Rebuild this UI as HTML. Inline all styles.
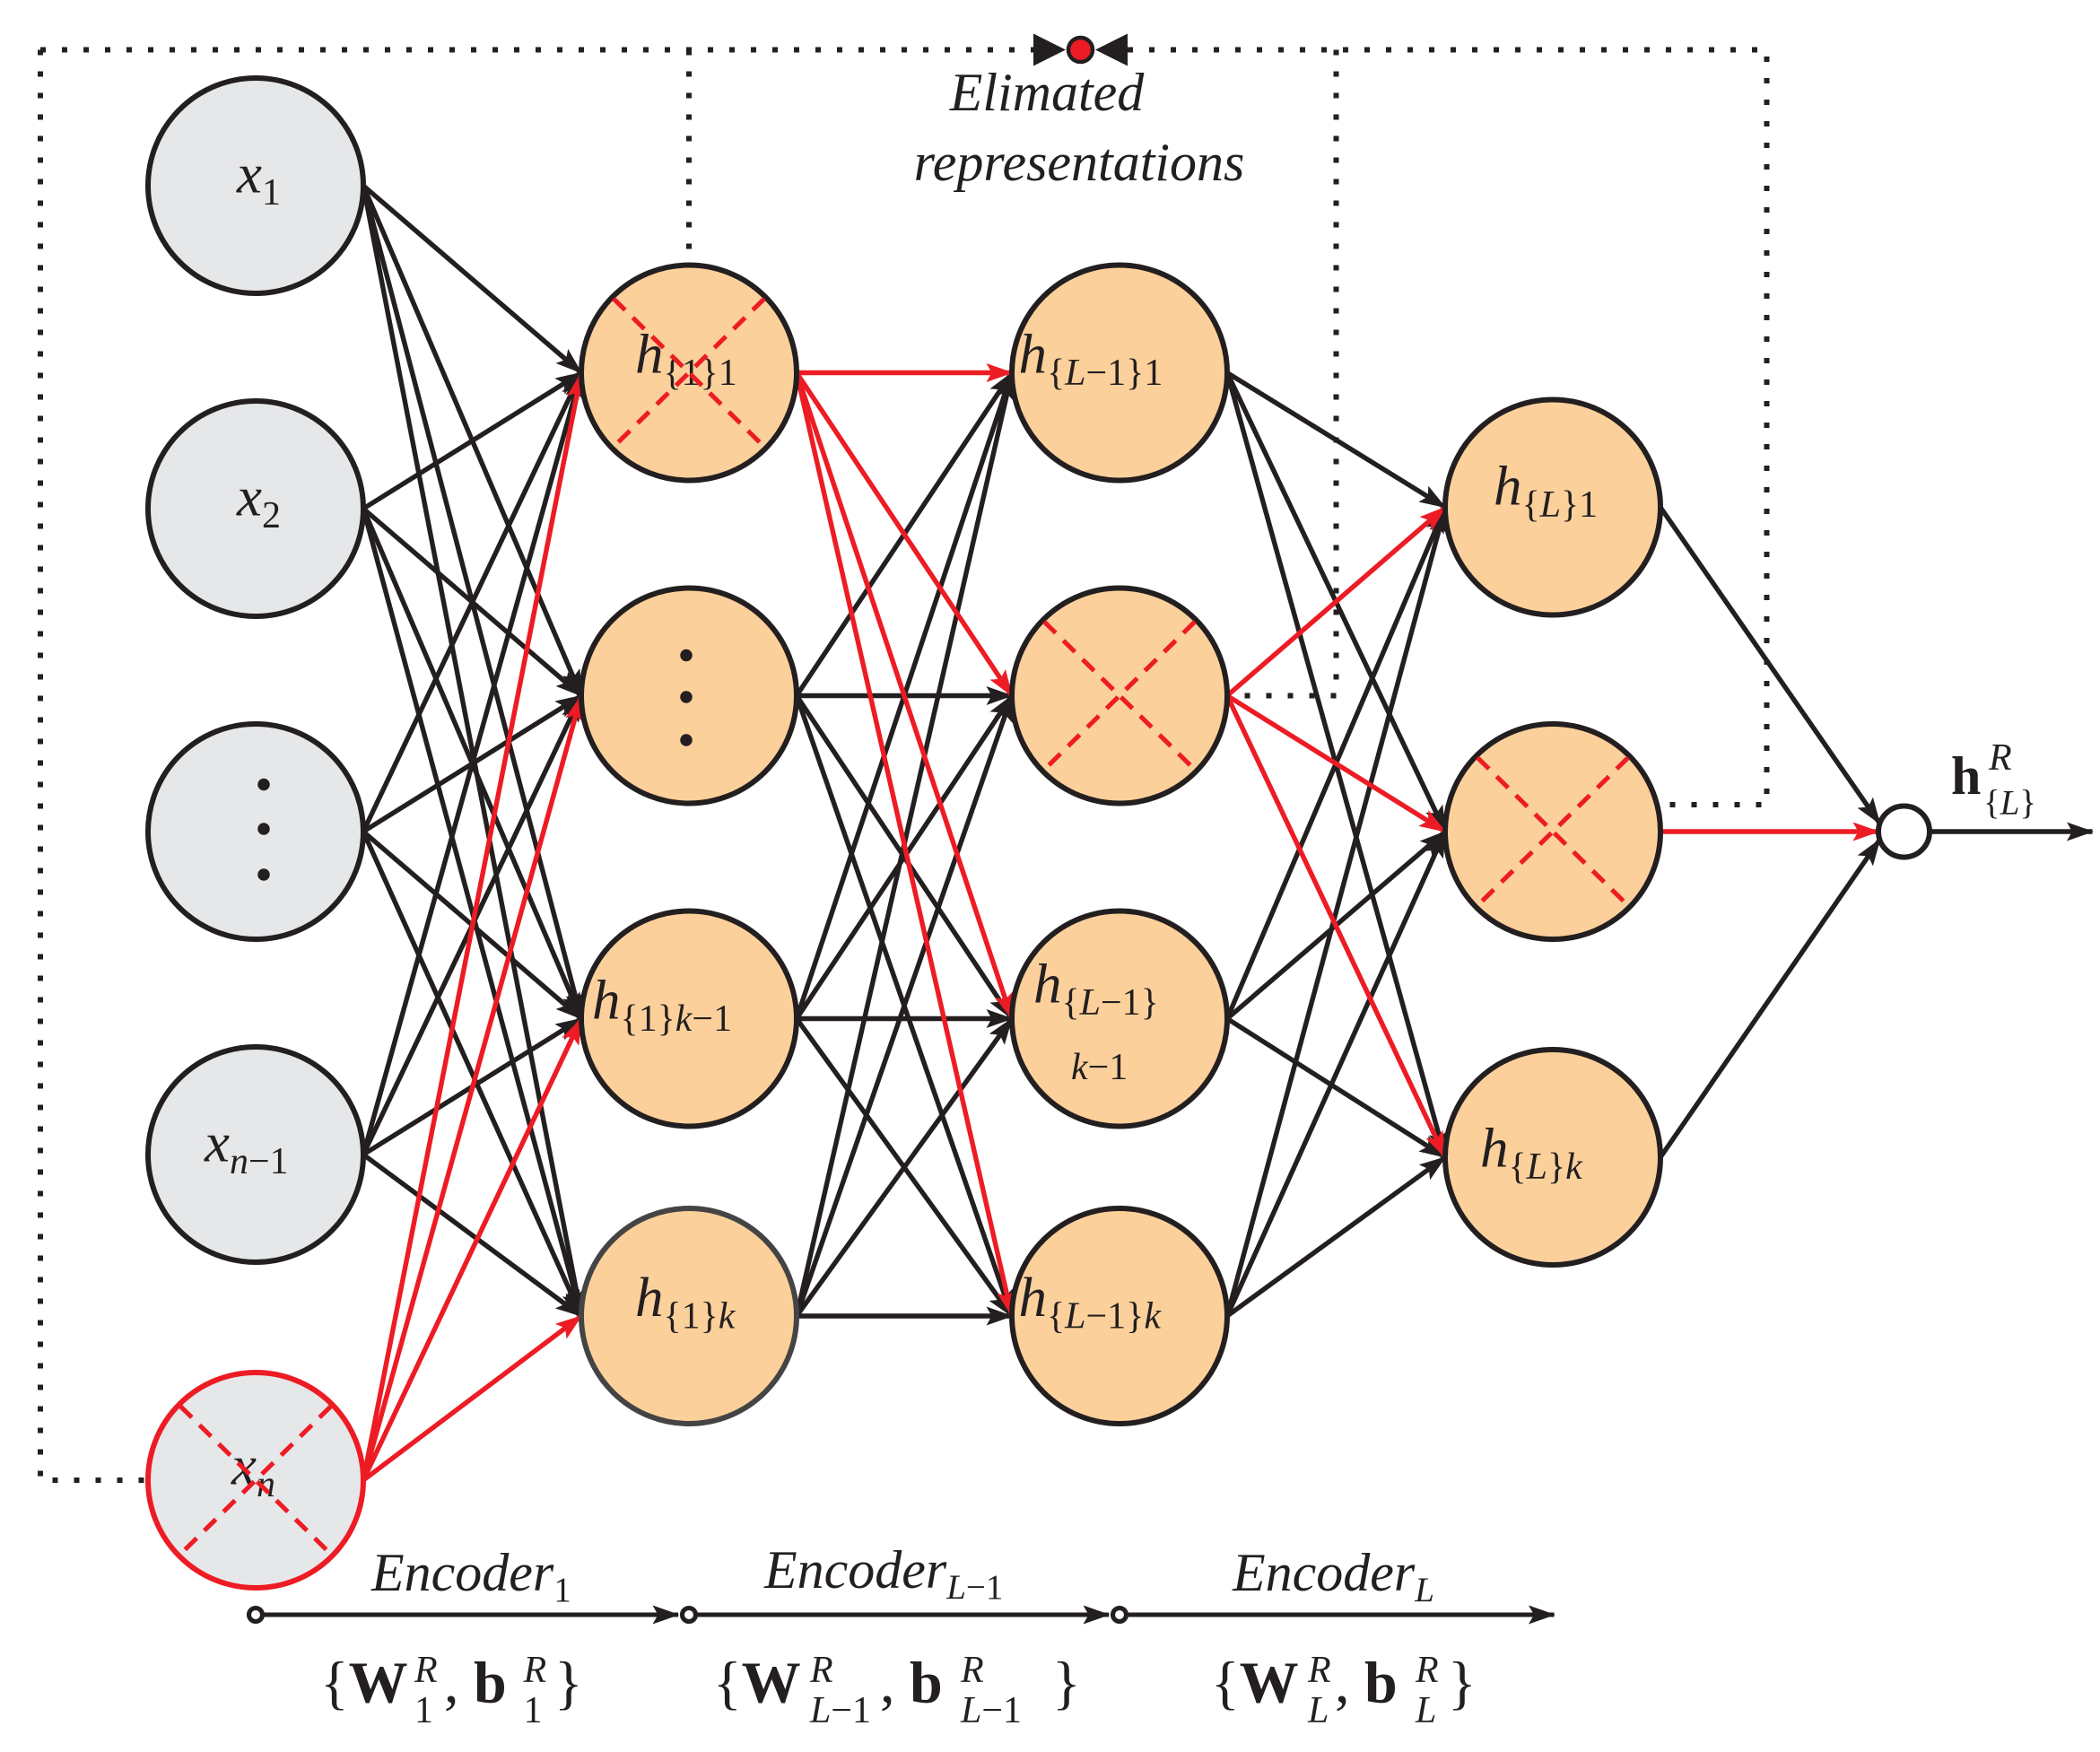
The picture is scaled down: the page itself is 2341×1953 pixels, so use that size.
<!DOCTYPE html>
<html><head><meta charset="utf-8"><style>
html,body{margin:0;padding:0;background:#fff}
svg{display:block}
text{font-family:"Liberation Serif","Times New Roman",serif;fill:#231f20}
.m{font-style:italic}
</style></head><body>
<svg width="2341" height="1953" viewBox="0 0 1560.67 1302" xmlns="http://www.w3.org/2000/svg">
<defs>
<marker id="kb" viewBox="0 0 20 14" refX="19" refY="7" markerWidth="20" markerHeight="14" orient="auto" markerUnits="userSpaceOnUse"><path d="M0,0 L20,7 L0,14 L4,7Z" fill="#231f20"/></marker>
<marker id="rb" viewBox="0 0 20 14" refX="19" refY="7" markerWidth="20" markerHeight="14" orient="auto" markerUnits="userSpaceOnUse"><path d="M0,0 L20,7 L0,14 L4,7Z" fill="#ed1c24"/></marker>
</defs>
<g stroke="#231f20" stroke-width="4" stroke-dasharray="4 12" fill="none">
<path d="M30,37 H768 M838,37 H1313 V598 H1235"/>
<path d="M30,37 V1100 H108"/>
<path d="M512,37 V195"/>
<path d="M993,37 V517 H915"/>
</g>
<path d="M768,25 L792,37 L768,49Z M838,25 L814,37 L838,49Z" fill="#231f20"/>
<circle cx="803" cy="37" r="9" fill="#ed1c24" stroke="#231f20" stroke-width="3"/>
<text class="m" x="778" y="82" font-size="40" text-anchor="middle">Elimated</text>
<text class="m" x="802" y="134" font-size="40" text-anchor="middle">representations</text>
<g stroke-width="3.6" fill="none">
<g stroke="#231f20" marker-end="url(#kb)">
<line x1="270" y1="138" x2="432" y2="277"/><line x1="270" y1="138" x2="432" y2="517"/><line x1="270" y1="138" x2="432" y2="757"/><line x1="270" y1="138" x2="432" y2="978"/>
<line x1="270" y1="378" x2="432" y2="277"/><line x1="270" y1="378" x2="432" y2="517"/><line x1="270" y1="378" x2="432" y2="757"/><line x1="270" y1="378" x2="432" y2="978"/>
<line x1="270" y1="618" x2="432" y2="277"/><line x1="270" y1="618" x2="432" y2="517"/><line x1="270" y1="618" x2="432" y2="757"/><line x1="270" y1="618" x2="432" y2="978"/>
<line x1="270" y1="858" x2="432" y2="277"/><line x1="270" y1="858" x2="432" y2="517"/><line x1="270" y1="858" x2="432" y2="757"/><line x1="270" y1="858" x2="432" y2="978"/>
</g>
<g stroke="#ed1c24" marker-end="url(#rb)">
<line x1="270" y1="1100" x2="432" y2="277"/><line x1="270" y1="1100" x2="432" y2="517"/><line x1="270" y1="1100" x2="432" y2="757"/><line x1="270" y1="1100" x2="432" y2="978"/>
</g>
<g stroke="#231f20" marker-end="url(#kb)">
<line x1="592" y1="517" x2="752" y2="277"/><line x1="592" y1="517" x2="752" y2="517"/><line x1="592" y1="517" x2="752" y2="757"/><line x1="592" y1="517" x2="752" y2="978"/>
<line x1="592" y1="757" x2="752" y2="277"/><line x1="592" y1="757" x2="752" y2="517"/><line x1="592" y1="757" x2="752" y2="757"/><line x1="592" y1="757" x2="752" y2="978"/>
<line x1="592" y1="978" x2="752" y2="277"/><line x1="592" y1="978" x2="752" y2="517"/><line x1="592" y1="978" x2="752" y2="757"/><line x1="592" y1="978" x2="752" y2="978"/>
</g>
<g stroke="#ed1c24" marker-end="url(#rb)">
<line x1="592" y1="277" x2="752" y2="277"/><line x1="592" y1="277" x2="752" y2="517"/><line x1="592" y1="277" x2="752" y2="757"/><line x1="592" y1="277" x2="752" y2="978"/>
</g>
<g stroke="#231f20" marker-end="url(#kb)">
<line x1="912" y1="277" x2="1074" y2="377"/><line x1="912" y1="277" x2="1074" y2="618"/><line x1="912" y1="277" x2="1074" y2="860"/>
<line x1="912" y1="757" x2="1074" y2="377"/><line x1="912" y1="757" x2="1074" y2="618"/><line x1="912" y1="757" x2="1074" y2="860"/>
<line x1="912" y1="978" x2="1074" y2="377"/><line x1="912" y1="978" x2="1074" y2="618"/><line x1="912" y1="978" x2="1074" y2="860"/>
</g>
<g stroke="#ed1c24" marker-end="url(#rb)">
<line x1="912" y1="517" x2="1074" y2="377"/><line x1="912" y1="517" x2="1074" y2="618"/><line x1="912" y1="517" x2="1074" y2="860"/>
</g>
<g stroke="#231f20" marker-end="url(#kb)">
<line x1="1234" y1="377" x2="1397" y2="612"/><line x1="1234" y1="860" x2="1397" y2="624"/>
<line x1="1434" y1="618" x2="1555" y2="618"/>
</g>
<line x1="1234" y1="618" x2="1396" y2="618" stroke="#ed1c24" marker-end="url(#rb)"/>
</g>
<g stroke="#231f20" stroke-width="4">
<circle cx="190" cy="138" r="80" fill="#e6e7e9"/>
<circle cx="190" cy="378" r="80" fill="#e6e7e9"/>
<circle cx="190" cy="618" r="80" fill="#e6e7e9"/>
<circle cx="190" cy="858" r="80" fill="#e6e7e9"/>
<circle cx="190" cy="1100" r="80" fill="#e6e7e9" stroke="#ed1c24"/>
<circle cx="512" cy="277" r="80" fill="#fcd09b"/>
<circle cx="512" cy="517" r="80" fill="#fcd09b"/>
<circle cx="512" cy="757" r="80" fill="#fcd09b"/>
<circle cx="512" cy="978" r="80" fill="#fcd09b" stroke="#444"/>
<circle cx="832" cy="277" r="80" fill="#fcd09b"/>
<circle cx="832" cy="517" r="80" fill="#fcd09b"/>
<circle cx="832" cy="757" r="80" fill="#fcd09b"/>
<circle cx="832" cy="978" r="80" fill="#fcd09b"/>
<circle cx="1154" cy="377" r="80" fill="#fcd09b"/>
<circle cx="1154" cy="618" r="80" fill="#fcd09b"/>
<circle cx="1154" cy="860" r="80" fill="#fcd09b"/>
<circle cx="1415" cy="618" r="19" fill="#fff"/>
</g>
<g fill="#231f20">
<circle cx="196" cy="583" r="4.5"/><circle cx="196" cy="616" r="4.5"/><circle cx="196" cy="650" r="4.5"/>
<circle cx="510" cy="487" r="4.5"/><circle cx="510" cy="518" r="4.5"/><circle cx="510" cy="550" r="4.5"/>
</g>
<g class="m" font-size="42">
<text x="176" y="143">x<tspan font-size="28" font-style="normal" dy="9">1</tspan></text>
<text x="176" y="383">x<tspan font-size="28" font-style="normal" dy="9">2</tspan></text>
<text x="152" y="863">x<tspan font-size="28" dy="9">n</tspan><tspan font-size="28" font-style="normal">−1</tspan></text>
<text x="172" y="1103">x<tspan font-size="28" dy="9">n</tspan></text>
<text x="472" y="277">h<tspan font-size="28" font-style="normal" dy="9">{1}1</tspan></text>
<text x="440" y="757">h<tspan font-size="28" font-style="normal" dy="9">{1}</tspan><tspan font-size="28">k</tspan><tspan font-size="28" font-style="normal">−1</tspan></text>
<text x="472" y="978">h<tspan font-size="28" font-style="normal" dy="9">{1}</tspan><tspan font-size="28">k</tspan></text>
<text x="757" y="277">h<tspan font-size="28" font-style="normal" dy="9">{</tspan><tspan font-size="28">L</tspan><tspan font-size="28" font-style="normal">−1}1</tspan></text>
<text x="768" y="745">h<tspan font-size="28" font-style="normal" dy="9">{</tspan><tspan font-size="28">L</tspan><tspan font-size="28" font-style="normal">−1}</tspan></text>
<text x="796" y="802" font-size="28">k<tspan font-style="normal">−1</tspan></text>
<text x="757" y="978">h<tspan font-size="28" font-style="normal" dy="9">{</tspan><tspan font-size="28">L</tspan><tspan font-size="28" font-style="normal">−1}</tspan><tspan font-size="28">k</tspan></text>
<text x="1110" y="375">h<tspan font-size="28" font-style="normal" dy="9">{</tspan><tspan font-size="28">L</tspan><tspan font-size="28" font-style="normal">}1</tspan></text>
<text x="1100" y="867">h<tspan font-size="28" font-style="normal" dy="9">{</tspan><tspan font-size="28">L</tspan><tspan font-size="28" font-style="normal">}</tspan><tspan font-size="28">k</tspan></text>
</g>
<text x="1450" y="590" font-size="40" font-weight="bold">h</text>
<text x="1478" y="572" font-size="28" class="m">R</text>
<text x="1474" y="605" font-size="26">{<tspan class="m">L</tspan>}</text>
<g stroke="#ed1c24" stroke-width="3.4" stroke-dasharray="12 8" fill="none">
<path d="M456,222 L568,332 M568,222 L456,332"/>
<path d="M776,462 L888,572 M888,462 L776,572"/>
<path d="M1098,563 L1210,673 M1210,563 L1098,673"/>
<path d="M134,1045 L246,1155 M246,1045 L134,1155"/>
</g>
<g stroke="#231f20" stroke-width="3.4" fill="none">
<line x1="194" y1="1200" x2="504" y2="1200" marker-end="url(#kb)"/>
<line x1="516" y1="1200" x2="824" y2="1200" marker-end="url(#kb)"/>
<line x1="836" y1="1200" x2="1155" y2="1200" marker-end="url(#kb)"/>
<circle cx="190" cy="1200" r="5" fill="#fff"/>
<circle cx="512" cy="1200" r="5" fill="#fff"/>
<circle cx="832" cy="1200" r="5" fill="#fff"/>
</g>
<g class="m" font-size="40">
<text x="276" y="1182">Encoder<tspan font-size="26" font-style="normal" dy="8">1</tspan></text>
<text x="568" y="1180">Encoder<tspan font-size="26" dy="8">L</tspan><tspan font-size="26" font-style="normal">−1</tspan></text>
<text x="916" y="1182">Encoder<tspan font-size="26" dy="8">L</tspan></text>
</g>
<g font-size="44">
<text x="238" y="1265">{<tspan font-weight="bold">W</tspan></text>
<text x="308" y="1250" font-size="28" class="m">R</text><text x="308" y="1280" font-size="28">1</text>
<text x="330" y="1265">, <tspan font-weight="bold">b</tspan></text>
<text x="389" y="1250" font-size="28" class="m">R</text><text x="389" y="1280" font-size="28">1</text>
<text x="412" y="1265">}</text>

<text x="530" y="1265">{<tspan font-weight="bold">W</tspan></text>
<text x="602" y="1250" font-size="28" class="m">R</text><text x="602" y="1280" font-size="28"><tspan class="m">L</tspan>−1</text>
<text x="654" y="1265">, <tspan font-weight="bold">b</tspan></text>
<text x="714" y="1250" font-size="28" class="m">R</text><text x="714" y="1280" font-size="28"><tspan class="m">L</tspan>−1</text>
<text x="782" y="1265">}</text>

<text x="900" y="1265">{<tspan font-weight="bold">W</tspan></text>
<text x="972" y="1250" font-size="28" class="m">R</text><text x="972" y="1280" font-size="28" class="m">L</text>
<text x="992" y="1265">, <tspan font-weight="bold">b</tspan></text>
<text x="1052" y="1250" font-size="28" class="m">R</text><text x="1052" y="1280" font-size="28" class="m">L</text>
<text x="1076" y="1265">}</text>
</g>
</svg>
</body></html>
